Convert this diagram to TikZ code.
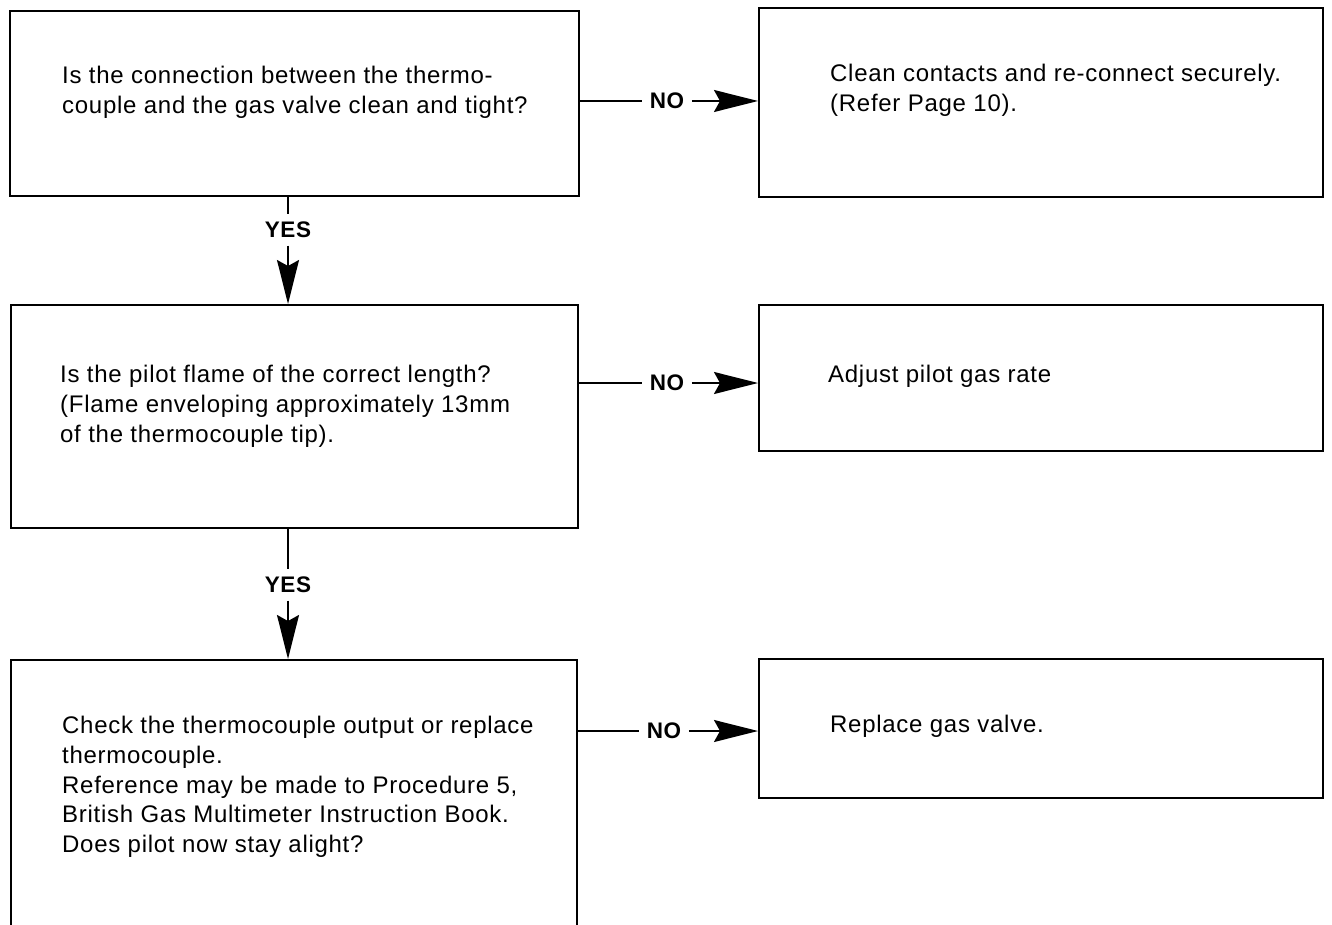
\documentclass[tikz,border=0pt]{standalone}
\usepackage{fontspec}
\setmainfont[LetterSpace=3]{Liberation Sans}
\usetikzlibrary{arrows.meta}
\begin{document}
\begin{tikzpicture}[x=1pt,y=-1pt,
  box/.style={draw,line width=2.2pt,inner sep=0pt,anchor=north west},
  txt/.style={anchor=north west,inner sep=0pt,align=left,font=\fontsize{24}{29.8}\selectfont},
  lbl/.style={inner sep=7.5pt,font=\fontsize{22.5}{26}\selectfont\bfseries},
  conn/.style={line width=1.7pt},
  arr/.style={conn,-{Stealth[length=44pt,width=22pt,inset=6pt]}}
]
\useasboundingbox (0,0) rectangle (1332,925);
% boxes
\node[box,minimum width=569pt,minimum height=185pt] (b1) at (9,10) {};
\node[box,minimum width=564pt,minimum height=189pt] (b2) at (758,7) {};
\node[box,minimum width=567pt,minimum height=223pt] (b3) at (10,304) {};
\node[box,minimum width=564pt,minimum height=146pt] (b4) at (758,304) {};
\node[box,minimum width=566pt,minimum height=285pt] (b5) at (10,659) {};
\node[box,minimum width=564pt,minimum height=139pt] (b6) at (758,658) {};
% texts
\node[txt] (t1) at (62,66) {Is the connection between the thermo-\\couple and the gas valve clean and tight?};
\node[txt] (t2) at (830,64) {Clean contacts and re-connect securely.\\(Refer Page 10).};
\node[txt] (t3) at (60,365) {Is the pilot flame of the correct length?\\(Flame enveloping approximately 13mm\\of the thermocouple tip).};
\node[txt] (t4) at (828,365) {Adjust pilot gas rate};
\node[txt] (t5) at (62,716) {Check the thermocouple output or replace\\thermocouple.\\Reference may be made to Procedure 5,\\British Gas Multimeter Instruction Book.\\Does pilot now stay alight?};
\node[txt] (t6) at (830,715) {Replace gas valve.};
% NO connectors
\node[lbl] (no1) at (667,101) {NO};
\draw[conn] (b1.east |- no1) -- (no1.west);
\draw[arr] (no1.east) -- (b2.west |- no1);
\node[lbl] (no2) at (667,383) {NO};
\draw[conn] (b3.east |- no2) -- (no2.west);
\draw[arr] (no2.east) -- (b4.west |- no2);
\node[lbl] (no3) at (664,731) {NO};
\draw[conn] (b5.east |- no3) -- (no3.west);
\draw[arr] (no3.east) -- (b6.west |- no3);
% YES connectors
\node[lbl] (yes1) at (288,230) {YES};
\draw[conn] (yes1 |- b1.south) -- (yes1.north);
\draw[arr] (yes1.south) -- (yes1 |- b3.north);
\node[lbl] (yes2) at (288,585) {YES};
\draw[conn] (yes2 |- b3.south) -- (yes2.north);
\draw[arr] (yes2.south) -- (yes2 |- b5.north);
\end{tikzpicture}
\end{document}
